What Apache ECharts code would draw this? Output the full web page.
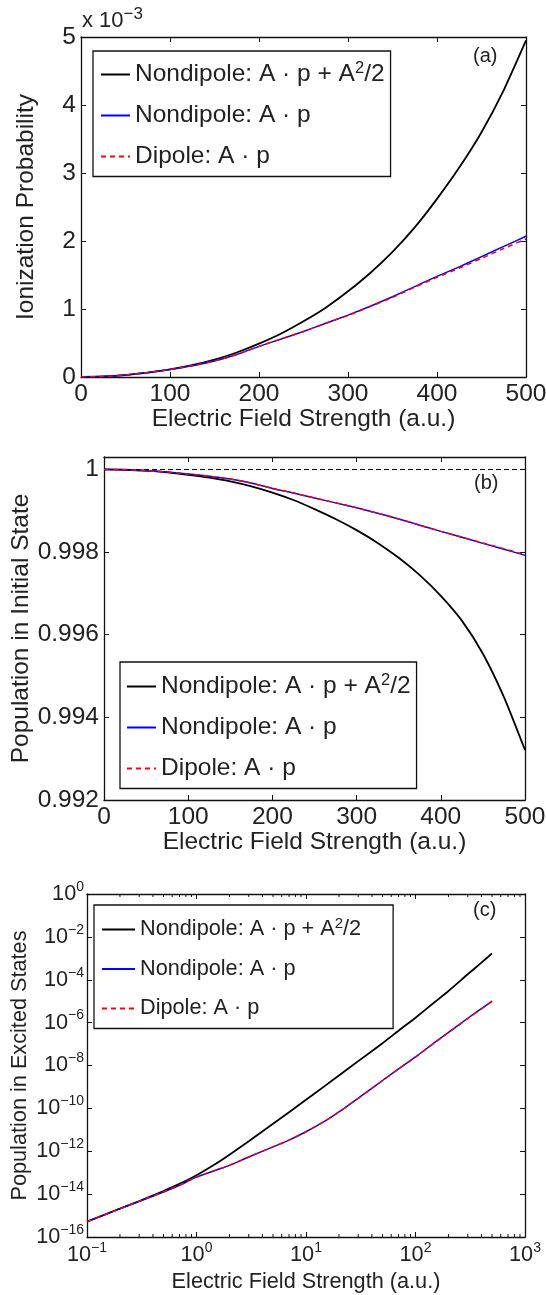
<!DOCTYPE html>
<html><head><meta charset="utf-8">
<script src="https://cdn.jsdelivr.net/npm/echarts@6/dist/echarts.min.js"></script>
<style>html,body{margin:0;padding:0;background:#fff}#c{width:546px;height:1295px}</style>
</head><body><div id="c"></div>
<script>
// ---------- data ----------
const fieldLin = [0,25,50,75,100,125,150,175,200,225,250,275,300,325,350,375,400,425,450,475,500];
// panel (a): ionization probability, in units of 1e-3
const ionNondipoleA2 = [0,0.007,0.028,0.063,0.112,0.175,0.255,0.36,0.49,0.64,0.82,1.02,1.26,1.53,1.84,2.2,2.62,3.08,3.6,4.22,4.95];
const ionNondipoleAp = [0,0.007,0.03,0.065,0.11,0.165,0.235,0.33,0.45,0.56,0.67,0.79,0.91,1.04,1.18,1.33,1.48,1.62,1.77,1.92,2.07];
const ionDipoleAp    = [0,0.007,0.03,0.065,0.11,0.165,0.235,0.33,0.45,0.56,0.67,0.79,0.905,1.035,1.17,1.32,1.465,1.6,1.745,1.89,2.03];
// panel (b): population in initial state
const popNondipoleA2 = [1,0.999992,0.99997,0.99993,0.99987,0.9998,0.99971,0.99959,0.99944,0.99926,0.99904,0.9988,0.99853,0.99822,0.99786,0.99744,0.99694,0.99634,0.99554,0.99449,0.99321];
const popNondipoleAp = [1,0.99999,0.99997,0.999935,0.99989,0.999835,0.999765,0.99967,0.99954,0.99943,0.99931,0.99919,0.99907,0.99894,0.9988,0.99865,0.9985,0.99836,0.99821,0.99807,0.99792];
const popDipoleAp    = [1,0.99999,0.99997,0.999935,0.99989,0.999835,0.999765,0.99967,0.99954,0.99943,0.99931,0.99919,0.99907,0.99894,0.9988,0.99865,0.9985,0.99836,0.99822,0.99808,0.99794];
const referenceLevel = 1;
// panel (c): population in excited states (log-log)
const fieldLog = [0.1,0.2,0.3,0.5,0.7,1,1.5,2,3,5,7,10,15,20,30,50,70,100,150,200,300,400,500];
const excNondipoleA2 = [5.2e-16,2.1e-15,4.7e-15,1.4e-14,3.0e-14,7.6e-14,2.6e-13,6.9e-13,2.95e-12,1.9e-11,6.6e-11,2.5e-10,1.15e-9,3.4e-9,1.6e-8,1.1e-7,4.2e-7,1.7e-6,9.1e-6,3.0e-5,1.8e-4,6.3e-4,1.7e-3];
const excNondipoleAp = [5.2e-16,2.1e-15,4.6e-15,1.26e-14,2.6e-14,6.2e-14,1.3e-13,2.2e-13,5.4e-13,1.6e-12,3.3e-12,8.1e-12,2.6e-11,6.8e-11,3.0e-10,2.0e-9,6.9e-9,2.5e-8,1.2e-7,3.5e-7,1.6e-6,4.5e-6,1.0e-5];
const excDipoleAp    = [5.2e-16,2.1e-15,4.6e-15,1.26e-14,2.6e-14,6.2e-14,1.3e-13,2.2e-13,5.4e-13,1.6e-12,3.3e-12,8.1e-12,2.6e-11,6.7e-11,2.95e-10,1.95e-9,6.8e-9,2.45e-8,1.18e-7,3.4e-7,1.55e-6,4.4e-6,9.7e-6];
// axes / ticks
const xLinTicks = {min:0, max:500, interval:100};
const yIonTicks = {min:0, max:5, interval:1};
const yPopTicks = {min:0.992, max:1.0003, interval:0.002};
const xLogRange = {min:0.1, max:1000};
const yLogRange = {min:1e-16, max:1};
const minorTickDecades = [0.1,1,10,100];
const minorTickMultiples = [2,3,4,5,6,7,8,9];
const legendLabels = ['Nondipole: A · p + A{s|2}/2','Nondipole: A · p','Dipole: A · p'];
const panelTags = ['(a)','(b)','(c)'];

// ---------- styling ----------
const FONT = 'Liberation Sans, Arial, Helvetica, sans-serif';
const TXT = '#222', LINE = '#111';
const FS = 24.5, FSC = 21.7;
const colors = ['#000000','#0000ff','#ff0000'];

function supText(v){
  const e = Math.round(Math.log10(v));
  return '{b|10}{s|' + (e < 0 ? '\u2212' + (-e) : e) + '}';
}
function richSup(fs, sfs, pad){
  return {b:{fontSize:fs, fontFamily:FONT, color:TXT}, s:{fontSize:sfs, fontFamily:FONT, color:TXT, padding:[0,0,pad,0]}};
}
function baseAxis(gridIndex, position, extra, labelShow){
  return Object.assign({
    gridIndex, position,
    axisLine:{show:true, onZero:false, lineStyle:{color:LINE, width:1.3}},
    axisTick:{show:true, inside:true, length:5, lineStyle:{color:LINE, width:1}},
    splitLine:{show:false},
    axisLabel:{show:labelShow, color:TXT, fontFamily:FONT},
    nameMoveOverlap:false
  }, extra);
}
function popLabel(v){
  const k = v / 0.002;
  if (Math.abs(k - Math.round(k)) > 1e-6) return '';
  return String(parseFloat(v.toFixed(3)));
}

const xAxes = [
  baseAxis(0,'bottom',Object.assign({type:'value', name:'Electric Field Strength (a.u.)', nameLocation:'middle', nameGap:30,
    nameTextStyle:{fontSize:FS, fontFamily:FONT, color:TXT}, axisLabel:{show:true, color:TXT, fontFamily:FONT, fontSize:FS, margin:5}}, xLinTicks), true),
  baseAxis(0,'top',Object.assign({type:'value'}, xLinTicks), false),
  baseAxis(1,'bottom',Object.assign({type:'value', name:'Electric Field Strength (a.u.)', nameLocation:'middle', nameGap:30,
    nameTextStyle:{fontSize:FS, fontFamily:FONT, color:TXT}, axisLabel:{show:true, color:TXT, fontFamily:FONT, fontSize:FS, margin:5}}, xLinTicks), true),
  baseAxis(1,'top',Object.assign({type:'value'}, xLinTicks), false),
  baseAxis(2,'bottom',Object.assign({type:'log', logBase:10, interval:1, name:'Electric Field Strength (a.u.)', nameLocation:'middle', nameGap:34,
    nameTextStyle:{fontSize:FSC, fontFamily:FONT, color:TXT},
    axisLabel:{show:true, margin:4, formatter:supText, rich:richSup(FSC,14,14)}}, xLogRange), true),
  baseAxis(2,'top',Object.assign({type:'log', logBase:10, interval:1}, xLogRange), false)
];
const yAxes = [
  baseAxis(0,'left',Object.assign({type:'value', name:'Ionization Probability', nameLocation:'middle', nameGap:42,
    nameTextStyle:{fontSize:FS, fontFamily:FONT, color:TXT}, axisLabel:{show:true, color:TXT, fontFamily:FONT, fontSize:FS, margin:5}}, yIonTicks), true),
  baseAxis(0,'right',Object.assign({type:'value'}, yIonTicks), false),
  baseAxis(1,'left',Object.assign({type:'value', name:'Population in Initial State', nameLocation:'middle', nameGap:70,
    nameTextStyle:{fontSize:FS, fontFamily:FONT, color:TXT}, axisLabel:{show:true, color:TXT, fontFamily:FONT, fontSize:FS, margin:5, formatter:popLabel}}, yPopTicks), true),
  baseAxis(1,'right',Object.assign({type:'value', axisLabel:{show:false}}, yPopTicks), false),
  baseAxis(2,'left',Object.assign({type:'log', logBase:10, interval:2, name:'Population in Excited States', nameLocation:'middle', nameGap:56,
    nameTextStyle:{fontSize:FSC, fontFamily:FONT, color:TXT},
    axisLabel:{show:true, margin:3, formatter:supText, rich:richSup(FSC,14,14)}}, yLogRange), true),
  baseAxis(2,'right',Object.assign({type:'log', logBase:10, interval:2}, yLogRange), false)
];

function lineSeries(name, xi, yi, xs, ys, k){
  return {
    name, type:'line', xAxisIndex:xi, yAxisIndex:yi, symbol:'none', showSymbol:false, smooth:0.2,
    data: xs.map((x,i)=>[x, ys[i]]),
    lineStyle:{color:colors[k], width:k===0?1.8:1.5, type:k===2?[5,4]:'solid'},
    itemStyle:{color:colors[k]}, z:3+k
  };
}
const names = [['a0','a1','a2'],['b0','b1','b2'],['c0','c1','c2']];
const series = [
  lineSeries('a0',0,0,fieldLin,ionNondipoleA2,0),
  lineSeries('a1',0,0,fieldLin,ionNondipoleAp,1),
  lineSeries('a2',0,0,fieldLin,ionDipoleAp,2),
  lineSeries('b0',2,2,fieldLin,popNondipoleA2,0),
  Object.assign(lineSeries('b1',2,2,fieldLin,popNondipoleAp,1), {markLine:{silent:true, symbol:['none','none'], label:{show:false},
    lineStyle:{color:'#000', width:1, type:[5,3]}, data:[{yAxis:referenceLevel}], animation:false}}),
  lineSeries('b2',2,2,fieldLin,popDipoleAp,2),
  lineSeries('c0',4,4,fieldLog,excNondipoleA2,0),
  lineSeries('c1',4,4,fieldLog,excNondipoleAp,1),
  lineSeries('c2',4,4,fieldLog,excDipoleAp,2)
];
const minorTicks = [];
minorTickDecades.forEach(d => minorTickMultiples.forEach(m => minorTicks.push([d*m, yLogRange.min])));
series.push({
  type:'custom', xAxisIndex:4, yAxisIndex:4, silent:true, clip:false, data:minorTicks,
  renderItem:(params, api)=>{
    const v = api.value(0);
    const b = api.coord([v, yLogRange.min]);
    const t = api.coord([v, yLogRange.max]);
    return {type:'group', children:[
      {type:'line', shape:{x1:b[0],y1:b[1],x2:b[0],y2:b[1]-3}, style:{stroke:LINE, lineWidth:1}},
      {type:'line', shape:{x1:t[0],y1:t[1],x2:t[0],y2:t[1]+3}, style:{stroke:LINE, lineWidth:1}}
    ]};
  }
});

function legendCfg(names, left, top, fs, sfs, lh, gap, pad, iw){
  const map = {}; names.forEach((n,i)=>map[n]=legendLabels[i]);
  return {
    data:names, orient:'vertical', left, top, padding:pad, itemGap:gap, itemWidth:iw, itemHeight:14,
    backgroundColor:'#fff', borderColor:LINE, borderWidth:1.3, borderRadius:0, selectedMode:false,
    itemStyle:{color:'rgba(0,0,0,0)', borderColor:'rgba(0,0,0,0)', borderWidth:0},
    formatter:n=>map[n],
    textStyle:{fontSize:fs, fontFamily:FONT, color:TXT, lineHeight:lh,
      rich:{s:{fontSize:sfs, fontFamily:FONT, color:TXT, padding:[0,0,12,0]}}}
  };
}

const option = {
  animation:false,
  textStyle:{fontFamily:FONT},
  grid:[
    {left:81, top:37, width:445, height:340, outerBoundsMode:'none', containLabel:false},
    {left:104, top:457, width:421, height:343, outerBoundsMode:'none', containLabel:false},
    {left:87, top:894, width:438, height:343, outerBoundsMode:'none', containLabel:false}
  ],
  xAxis:xAxes, yAxis:yAxes,
  legend:[
    legendCfg(names[0], 93, 51, FS, 16.5, 28, 13, [9,6,6,7], 29),
    legendCfg(names[1], 120, 662, FS, 16.5, 28, 13, [10,6,6,6], 29),
    legendCfg(names[2], 94, 905, FSC, 15, 26, 13.5, [11,32,7,7], 33)
  ],
  graphic:[
    {type:'text', left:473, top:46, style:{text:panelTags[0], fontSize:20, fontFamily:FONT, fill:TXT}},
    {type:'text', left:474, top:473, style:{text:panelTags[1], fontSize:20, fontFamily:FONT, fill:TXT}},
    {type:'text', left:473, top:900, style:{text:panelTags[2], fontSize:20, fontFamily:FONT, fill:TXT}},
    {type:'text', left:82, top:6, style:{text:'{b|x 10}{s|\u22123}', fontFamily:FONT, fill:TXT,
      rich:{b:{fontSize:22, fontFamily:FONT, color:TXT}, s:{fontSize:17, fontFamily:FONT, color:TXT, padding:[0,0,13,0]}}}}
  ],
  series
};
const chart = echarts.init(document.getElementById('c'), null, {renderer:'canvas'});
chart.setOption(option);
</script></body></html>
